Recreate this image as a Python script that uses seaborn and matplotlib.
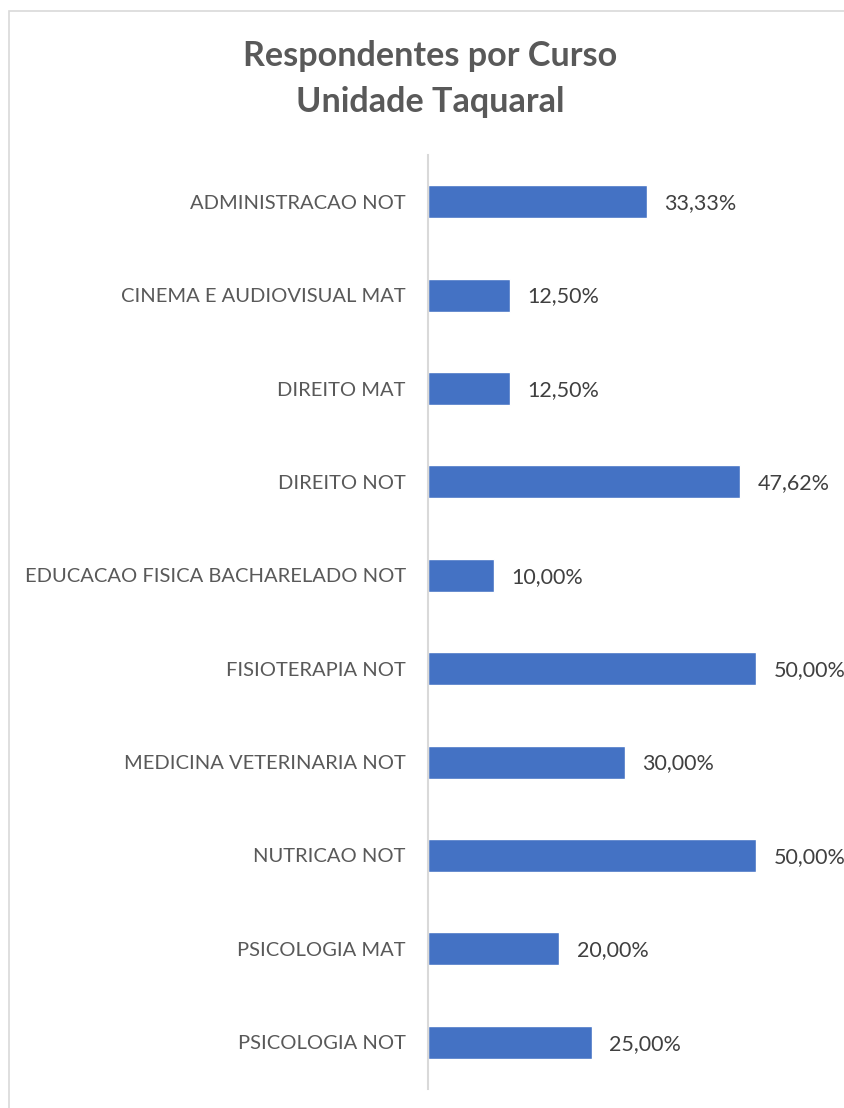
import matplotlib
matplotlib.use("Agg")
import matplotlib.pyplot as plt
import seaborn as sns
import pandas as pd
from matplotlib.patches import Rectangle

categories = ["ADMINISTRACAO NOT", "CINEMA E AUDIOVISUAL MAT", "DIREITO MAT", "DIREITO NOT",
              "EDUCACAO FISICA BACHARELADO NOT", "FISIOTERAPIA NOT", "MEDICINA VETERINARIA NOT",
              "NUTRICAO NOT", "PSICOLOGIA MAT", "PSICOLOGIA NOT"]
values = [33.33, 12.50, 12.50, 47.62, 10.00, 50.00, 30.00, 50.00, 20.00, 25.00]
title = "Respondentes por Curso\nUnidade Taquaral"

sns.set_theme(style="white")
plt.rcParams['font.family'] = ['Lato', 'DejaVu Sans']

df = pd.DataFrame({"curso": categories, "pct": values})

fig = plt.figure(figsize=(8.45, 11.08), dpi=100)
ax = fig.add_axes([428/845, 1 - 1089/1108, (756 - 428)/845, (1089 - 155)/1108])
sns.barplot(data=df, y="curso", x="pct", orient="h", color="#4472C4", width=0.355,
            saturation=1, ax=ax)
ax.set_xlim(0, 50)
ax.set_ylim(9.5, -0.5)
ax.set_xlabel("")
ax.set_ylabel("")
ax.set_xticks([])
for s in ["top", "right", "bottom"]:
    ax.spines[s].set_visible(False)
ax.spines["left"].set_color("#d9d9d9")
ax.spines["left"].set_linewidth(1.5)
ax.tick_params(axis="y", length=0, pad=16, labelsize=14.5, labelcolor="#595959")

for i, v in enumerate(values):
    ax.annotate(f"{v:.2f}".replace(".", ",") + "%", xy=(v, i), xytext=(12.5, -1),
                textcoords="offset points", va="center", ha="left",
                fontsize=15.5, color="#404040", annotation_clip=False)

fig.text(0.509, 1 - 79/1108, title, ha="center", va="center", fontsize=24.6,
         fontweight="bold", color="#595959", linespacing=1.55)

fig.patches.append(Rectangle((9/845, -0.1), 1.2, 1 - 11/1108 + 0.1, transform=fig.transFigure,
                             fill=False, edgecolor="#d9d9d9", linewidth=1.2))

fig.savefig("out.png", dpi=100)
